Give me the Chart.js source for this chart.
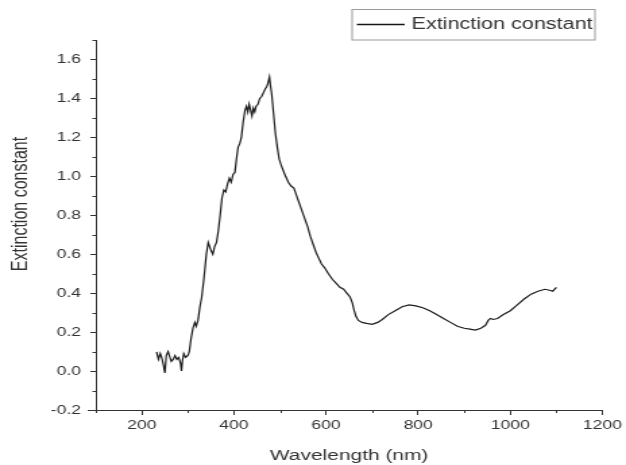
<!DOCTYPE html>
<html>
<head>
<meta charset="utf-8">
<script src="https://cdn.jsdelivr.net/npm/chart.js@4.4.1/dist/chart.umd.min.js"></script>
<style>
html,body{margin:0;padding:0;background:#fff;}
canvas{display:block;}
</style>
</head>
<body>
<canvas id="c" width="464" height="465" style="width:626px;height:465px;"></canvas>
<script>
// ---- data ----
const wavelengths = [232,236,240,243,247,250,253,257,261,264,268,272,276,280,284,286,288,291,295,300,
  303,307,311,315,318,322,326,330,335,340,344,347,350,354,358,362,366,370,374,378,382,386,390,394,398,
  402,406,409,413,416,420,424,427,430,433,436,439,442,445,448,452,456,460,464,468,471,474,477,479,482,
  486,490,494,498,502,507,512,518,524,530,536,542,548,554,560,566,572,578,584,590,597,605,614,622,630,
  638,645,652,657,661,665,670,678,688,700,712,722,735,750,765,780,795,810,825,840,855,870,885,900,912,
  924,936,946,952,957,963,972,985,1000,1015,1030,1045,1060,1075,1085,1092,1100];
const extinction = [0.098,0.06,0.09,0.07,0.03,-0.01,0.08,0.10,0.07,0.05,0.06,0.08,0.06,0.07,0.04,0.0,0.05,0.09,0.07,0.08,
  0.10,0.17,0.22,0.25,0.23,0.26,0.33,0.38,0.48,0.60,0.66,0.64,0.62,0.60,0.64,0.66,0.72,0.80,0.89,0.93,0.92,0.96,0.99,0.97,1.01,
  1.02,1.10,1.15,1.17,1.20,1.28,1.34,1.36,1.33,1.37,1.34,1.31,1.35,1.33,1.36,1.37,1.40,1.41,1.43,1.45,1.46,1.48,1.51,1.47,1.42,
  1.32,1.22,1.15,1.09,1.06,1.03,1.00,0.97,0.95,0.94,0.90,0.86,0.82,0.78,0.74,0.69,0.65,0.61,0.58,0.55,0.53,0.50,0.47,0.45,0.43,
  0.42,0.40,0.38,0.35,0.31,0.28,0.26,0.25,0.245,0.24,0.25,0.265,0.29,0.31,0.33,0.34,0.335,0.325,0.31,0.29,0.27,0.25,0.23,0.22,0.215,
  0.21,0.22,0.235,0.26,0.27,0.265,0.27,0.29,0.31,0.34,0.37,0.395,0.41,0.42,0.415,0.41,0.43];
const seriesName = 'Extinction constant';
const xTitle = 'Wavelength (nm)';
const yTitle = 'Extinction constant';
const xTicks = [200,400,600,800,1000,1200];
const xMinorTicks = [100,300,500,700,900,1100];
const yTicks = [-0.2,0.0,0.2,0.4,0.6,0.8,1.0,1.2,1.4,1.6];
const yMinorTicks = [-0.1,0.1,0.3,0.5,0.7,0.9,1.1,1.3,1.5,1.7];

const FONT = "'Liberation Sans', Arial, sans-serif";
const TEXT = '#333';
const AXIS = '#333';

const extras = {
  id: 'extras',
  afterDraw(chart) {
    const ctx = chart.ctx;
    const xs = chart.scales.x, ys = chart.scales.y, ca = chart.chartArea;
    ctx.save();
    ctx.strokeStyle = AXIS;
    ctx.lineWidth = 1;
    // minor ticks
    yMinorTicks.forEach(v => {
      const p = Math.round(ys.getPixelForValue(v)) + 0.5;
      ctx.beginPath(); ctx.moveTo(ca.left - 2.5, p); ctx.lineTo(ca.left, p); ctx.stroke();
    });
    xMinorTicks.forEach(v => {
      const p = Math.round(xs.getPixelForValue(v)) + 0.5;
      ctx.beginPath(); ctx.moveTo(p, ca.bottom); ctx.lineTo(p, ca.bottom + 3); ctx.stroke();
    });
    // small overhang of the x axis line to the left of the y axis
    ctx.beginPath(); ctx.moveTo(ca.left - 6, Math.round(ca.bottom) + 0.5); ctx.lineTo(ca.left, Math.round(ca.bottom) + 0.5); ctx.stroke();
    // y title
    ctx.fillStyle = TEXT;
    ctx.font = '16px ' + FONT;
    ctx.textAlign = 'center';
    ctx.textBaseline = 'middle';
    ctx.translate(15.5, 204);
    ctx.rotate(-Math.PI / 2);
    ctx.fillText(yTitle, 0, 0);
    ctx.restore();

    // legend box
    ctx.save();
    ctx.strokeStyle = '#9a9a9a';
    ctx.lineWidth = 1;
    ctx.strokeRect(261, 9.5, 180, 30.5);
    ctx.strokeStyle = '#151515';
    ctx.lineWidth = 1.3;
    ctx.beginPath(); ctx.moveTo(264.5, 24.5); ctx.lineTo(300, 24.5); ctx.stroke();
    ctx.fillStyle = TEXT;
    ctx.font = '16px ' + FONT;
    ctx.textAlign = 'left';
    ctx.textBaseline = 'middle';
    ctx.fillText(seriesName, 305, 25);
    ctx.restore();
  }
};

new Chart(document.getElementById('c'), {
  type: 'line',
  data: {
    datasets: [{
      label: seriesName,
      data: wavelengths.map((w, i) => ({x: w, y: extinction[i]})),
      borderColor: '#1c1c1c',
      borderWidth: 1.2,
      pointRadius: 0,
      tension: 0,
      fill: false
    }]
  },
  options: {
    responsive: false,
    animation: false,
    devicePixelRatio: 1,
    layout: {padding: {top: 40, right: 16, left: 0, bottom: 0}},
    plugins: {legend: {display: false}, tooltip: {enabled: false}},
    scales: {
      x: {
        type: 'linear', min: 100, max: 1200,
        afterBuildTicks: s => { s.ticks = xTicks.map(v => ({value: v})); },
        afterFit: s => { s.height = 55; },
        border: {color: AXIS, width: 1},
        grid: {drawOnChartArea: false, drawTicks: true, tickLength: 5, tickColor: AXIS},
        ticks: {color: TEXT, font: {family: FONT, size: 13}, padding: 3, maxRotation: 0,
                callback: v => String(v)},
        title: {display: true, text: xTitle, color: TEXT, font: {family: FONT, size: 15.5}, padding: {top: 0, bottom: 0}}
      },
      y: {
        type: 'linear', min: -0.2, max: 1.7,
        afterBuildTicks: s => { s.ticks = yTicks.map(v => ({value: v})); },
        afterFit: s => { s.width = 71; },
        border: {color: AXIS, width: 1},
        grid: {drawOnChartArea: false, drawTicks: true, tickLength: 4, tickColor: AXIS},
        ticks: {color: TEXT, font: {family: FONT, size: 13}, padding: 7,
                callback: v => Number(v).toFixed(1)}
      }
    }
  },
  plugins: [extras]
});
</script>
</body>
</html>
